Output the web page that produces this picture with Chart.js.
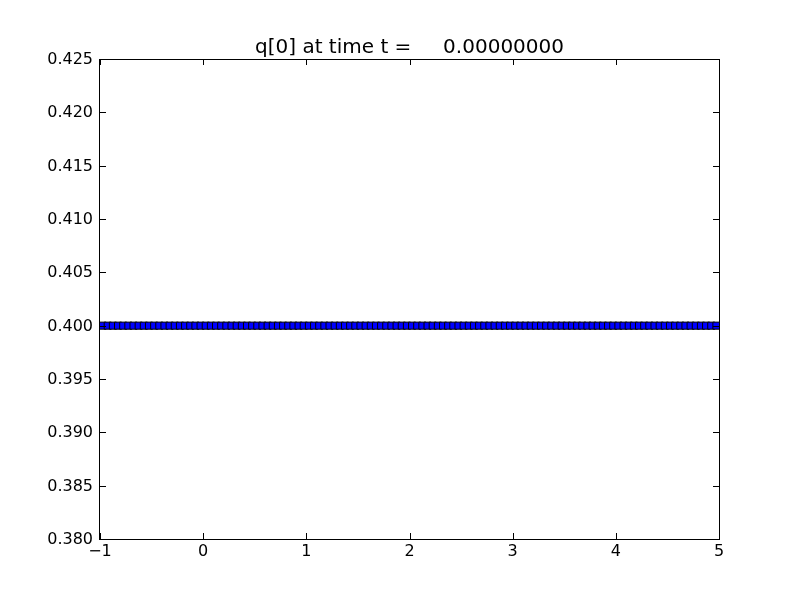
<!DOCTYPE html>
<html>
<head>
<meta charset="utf-8">
<script src="https://cdn.jsdelivr.net/npm/chart.js@4/dist/chart.umd.min.js"></script>
<style>
  html, body { margin: 0; padding: 0; background: #fff; }
  #wrap { width: 800px; height: 600px; }
</style>
</head>
<body>
<div id="wrap"><canvas id="chart" width="800" height="600"></canvas></div>
<script>
// cell centres (x) and q[0] values
const cellCenters = [
  -0.975, -0.925, -0.875, -0.825, -0.775, -0.725, -0.675, -0.625, -0.575, -0.525,
  -0.475, -0.425, -0.375, -0.325, -0.275, -0.225, -0.175, -0.125, -0.075, -0.025,
  0.025, 0.075, 0.125, 0.175, 0.225, 0.275, 0.325, 0.375, 0.425, 0.475,
  0.525, 0.575, 0.625, 0.675, 0.725, 0.775, 0.825, 0.875, 0.925, 0.975,
  1.025, 1.075, 1.125, 1.175, 1.225, 1.275, 1.325, 1.375, 1.425, 1.475,
  1.525, 1.575, 1.625, 1.675, 1.725, 1.775, 1.825, 1.875, 1.925, 1.975,
  2.025, 2.075, 2.125, 2.175, 2.225, 2.275, 2.325, 2.375, 2.425, 2.475,
  2.525, 2.575, 2.625, 2.675, 2.725, 2.775, 2.825, 2.875, 2.925, 2.975,
  3.025, 3.075, 3.125, 3.175, 3.225, 3.275, 3.325, 3.375, 3.425, 3.475,
  3.525, 3.575, 3.625, 3.675, 3.725, 3.775, 3.825, 3.875, 3.925, 3.975,
  4.025, 4.075, 4.125, 4.175, 4.225, 4.275, 4.325, 4.375, 4.425, 4.475,
  4.525, 4.575, 4.625, 4.675, 4.725, 4.775, 4.825, 4.875, 4.925, 4.975
];
const qValues = [
  0.4, 0.4, 0.4, 0.4, 0.4, 0.4, 0.4, 0.4, 0.4, 0.4,
  0.4, 0.4, 0.4, 0.4, 0.4, 0.4, 0.4, 0.4, 0.4, 0.4,
  0.4, 0.4, 0.4, 0.4, 0.4, 0.4, 0.4, 0.4, 0.4, 0.4,
  0.4, 0.4, 0.4, 0.4, 0.4, 0.4, 0.4, 0.4, 0.4, 0.4,
  0.4, 0.4, 0.4, 0.4, 0.4, 0.4, 0.4, 0.4, 0.4, 0.4,
  0.4, 0.4, 0.4, 0.4, 0.4, 0.4, 0.4, 0.4, 0.4, 0.4,
  0.4, 0.4, 0.4, 0.4, 0.4, 0.4, 0.4, 0.4, 0.4, 0.4,
  0.4, 0.4, 0.4, 0.4, 0.4, 0.4, 0.4, 0.4, 0.4, 0.4,
  0.4, 0.4, 0.4, 0.4, 0.4, 0.4, 0.4, 0.4, 0.4, 0.4,
  0.4, 0.4, 0.4, 0.4, 0.4, 0.4, 0.4, 0.4, 0.4, 0.4,
  0.4, 0.4, 0.4, 0.4, 0.4, 0.4, 0.4, 0.4, 0.4, 0.4,
  0.4, 0.4, 0.4, 0.4, 0.4, 0.4, 0.4, 0.4, 0.4, 0.4
];
const xTicks = [-1, 0, 1, 2, 3, 4, 5];
const yTicks = [0.380, 0.385, 0.390, 0.395, 0.400, 0.405, 0.410, 0.415, 0.420, 0.425];
const titleText = 'q[0] at time t =     0.00000000';

const FONT = "'DejaVu Sans', sans-serif";

// matplotlib-style frame: box on all four sides, ticks pointing inward
const framePlugin = {
    id: 'frame',
    afterDatasetsDraw(chart) {
        const { ctx, chartArea: a, scales } = chart;
        ctx.save();
        ctx.strokeStyle = '#000';
        ctx.lineWidth = 1;
        const len = 6;
        ctx.beginPath();
        xTicks.forEach(v => {
            const x = Math.round(scales.x.getPixelForValue(v)) + 0.5;
            ctx.moveTo(x, a.bottom); ctx.lineTo(x, a.bottom - len);
            ctx.moveTo(x, a.top); ctx.lineTo(x, a.top + len);
        });
        yTicks.forEach(v => {
            const y = Math.round(scales.y.getPixelForValue(v)) + 0.5;
            ctx.moveTo(a.left, y); ctx.lineTo(a.left + len, y);
            ctx.moveTo(a.right, y); ctx.lineTo(a.right - len, y);
        });
        ctx.stroke();
        ctx.strokeRect(a.left - 0.5, a.top + 0.5, a.right - a.left + 1, a.bottom - a.top);
        // title centred over the axes
        ctx.fillStyle = '#000';
        ctx.font = '20px ' + FONT;
        ctx.textAlign = 'center';
        ctx.textBaseline = 'alphabetic';
        ctx.fillText(titleText, (a.left + a.right) / 2, 53);
        ctx.restore();
    }
};

new Chart(document.getElementById('chart'), {
    type: 'scatter',
    data: {
        datasets: [{
            data: cellCenters.map((x, i) => ({ x, y: qValues[i] })),
            showLine: false,
            pointStyle: 'rect',
            pointRadius: 5,
            pointBackgroundColor: '#0000ff',
            pointBorderColor: '#000',
            pointBorderWidth: 1,
            clip: 0,
        }],
    },
    options: {
        responsive: false,
        animation: false,
        layout: { padding: { top: 59, right: 81, left: 0, bottom: 0 } },
        plugins: {
            legend: { display: false },
            tooltip: { enabled: false },
            title: { display: false },
        },
        scales: {
            x: {
                type: 'linear',
                min: -1,
                max: 5,
                afterBuildTicks: s => { s.ticks = xTicks.map(v => ({ value: v })); },
                afterFit: s => { s.height = 61; },
                grid: { display: false, drawTicks: false },
                border: { display: false },
                ticks: {
                    color: '#000',
                    padding: 3,
                    font: { family: FONT, size: 16 },
                    callback: v => (v < 0 ? '\u2212' + Math.abs(v) : String(v)),
                },
            },
            y: {
                type: 'linear',
                min: 0.380,
                max: 0.425,
                afterBuildTicks: s => { s.ticks = yTicks.map(v => ({ value: v })); },
                afterFit: s => { s.width = 100; },
                grid: { display: false, drawTicks: false },
                border: { display: false },
                ticks: {
                    color: '#000',
                    padding: 7,
                    labelOffset: 1,
                    font: { family: FONT, size: 16 },
                    callback: v => Number(v).toFixed(3),
                },
            },
        },
    },
    plugins: [framePlugin],
});
</script>
</body>
</html>
